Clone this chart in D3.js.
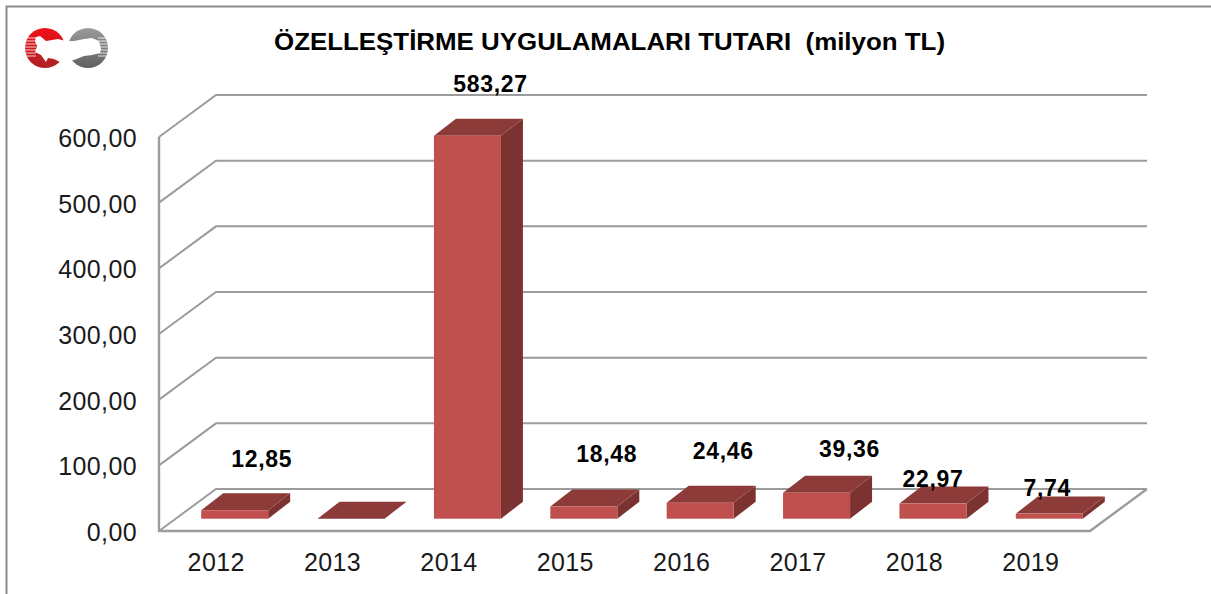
<!doctype html>
<html lang="tr">
<head>
	<meta charset="UTF-8">
	<title>Özelleştirme uygulamaları tutarı</title>
	<script src="https://d3js.org/d3.v7.min.js"></script>
	<style>
		html, body { margin: 0; padding: 0; background: #fff; overflow: hidden; }
		text { font-family: 'Liberation Sans', Arial, sans-serif; white-space: pre; }
	</style>
</head>
<body>
	<div id="chart"></div>
	<script>
		var years = ['2012', '2013', '2014', '2015', '2016', '2017', '2018', '2019']
		var amounts = [12.85, 0, 583.27, 18.48, 24.46, 39.36, 22.97, 7.74]
		var amount_labels = ['12,85', '', '583,27', '18,48', '24,46', '39,36', '22,97', '7,74']
		var y_ticks = [0, 100, 200, 300, 400, 500, 600]
		var chart_title = 'ÖZELLEŞTİRME UYGULAMALARI TUTARI  (milyon TL)'

		var w = 1211
		var h = 594

		var svg = d3.select('#chart')
			.append('svg')
			.attr('width', w)
			.attr('height', h)

		// scales, the front plane of the 3d box
		var x = d3.scaleBand().domain(years).range([159, 1090])
		var y = d3.scaleLinear().domain([0, 600]).range([531, 137])
		var comma = d3.formatLocale({ decimal: ',', thousands: '.', grouping: [3], currency: ['', ''] }).format('.2f')

		// box depth and bar depth
		var depth_x = 57, depth_y = -42
		var bar_x = 22, bar_y = -17
		var bar_w = 67
		var bar_shift_x = 17.5, bar_shift_y = -12.3

		// labels were placed by hand in the original
		var label_nudge = [[27, -26], [0, 0], [23, -27], [23, -28], [23, -27], [33, -19], [0, 0], [-2, -1]]

		var grid = '#9c9c9c'

		/* ---------------------------------- Frame --------------------------------- */
		svg.append('path')
			.attr('d', 'M6.5,594V6.5H1211')
			.attr('fill', 'none')
			.attr('stroke', '#8c8c8c')
			.attr('stroke-width', 2)

		/* ---------------------------------- Logo ---------------------------------- */
		function draw_logo() {
			var defs = svg.append('defs')
			var red = defs.append('linearGradient').attr('id', 'logo_red').attr('x1', 0).attr('y1', 0).attr('x2', 0).attr('y2', 1)
			red.append('stop').attr('offset', 0).attr('stop-color', '#f01018')
			red.append('stop').attr('offset', 1).attr('stop-color', '#b02025')
			var gray = defs.append('linearGradient').attr('id', 'logo_gray').attr('x1', 0).attr('y1', 0).attr('x2', 0).attr('y2', 1)
			gray.append('stop').attr('offset', 0).attr('stop-color', '#9a9a9a')
			gray.append('stop').attr('offset', 1).attr('stop-color', '#606060')

			var logo = svg.append('g')
			logo.append('circle').attr('cx', 45).attr('cy', 48).attr('r', 20).attr('fill', 'url(#logo_red)')
			logo.append('circle').attr('cx', 88).attr('cy', 48).attr('r', 20).attr('fill', 'url(#logo_gray)')

			// stripes on the outer edges
			d3.range(38, 58, 3).forEach(function(sy) {
				logo.append('line').attr('x1', 24).attr('x2', 36).attr('y1', sy).attr('y2', sy)
					.attr('stroke', '#fff').attr('stroke-width', 0.8)
				logo.append('line').attr('x1', 98).attr('x2', 109).attr('y1', sy).attr('y2', sy)
					.attr('stroke', '#fff').attr('stroke-width', 0.8)
			})

			// map outline in white across both circles
			logo.append('path')
				.attr('d', 'M36,37 L40,36 L46,41 L58,39 L66,41 L74,41 L84,39 L92,38 L99,41 L101,49 L100,53 L92,55 L84,56 L74,60 L66,60 L62,63 L54,59 L48,58 L46,62 L41,55 L35,52 L37,46 L35,41 Z')
				.attr('fill', '#fff')
		}
		draw_logo()

		/* ---------------------------------- Title --------------------------------- */
		svg.append('text')
			.attr('x', 274)
			.attr('y', 50)
			.attr('textLength', 671)
			.attr('lengthAdjust', 'spacingAndGlyphs')
			.attr('font-size', 23)
			.attr('font-weight', 'bold')
			.attr('fill', '#000')
			.text(chart_title)

		/* ------------------------------- Walls, floor ------------------------------ */
		var x_left = x.range()[0], x_right = x.range()[1]

		y_ticks.forEach(function(t) {
			svg.append('path')
				.attr('d', d3.line()([
					[x_left, y(t)],
					[x_left + depth_x, y(t) + depth_y],
					[x_right + depth_x, y(t) + depth_y]
				]))
				.attr('fill', 'none')
				.attr('stroke', grid)
				.attr('stroke-width', 2)
		})

		// right edge of the floor, front edge and the side wall edge
		svg.append('path')
			.attr('d', d3.line()([
				[x_right + depth_x, y(0) + depth_y],
				[x_right, y(0)],
				[x_left, y(0)],
				[x_left, y(600)]
			]))
			.attr('fill', 'none')
			.attr('stroke', grid)
			.attr('stroke-width', 2.4)

		/* ---------------------------------- Axes ---------------------------------- */
		var y_axis = d3.axisLeft(y).tickValues(y_ticks).tickFormat(comma).tickSize(0).tickPadding(22)
		var y_g = svg.append('g').attr('transform', 'translate(' + x_left + ',1.5)').call(y_axis)
		y_g.select('.domain').remove()
		y_g.selectAll('text')
			.attr('font-size', 25)
			.attr('letter-spacing', 0.4)
			.attr('fill', '#1a1a1a')
			.style('font-family', "'Liberation Sans', Arial, sans-serif")

		var x_axis = d3.axisBottom(x).tickSize(0).tickPadding(22)
		var x_g = svg.append('g').attr('transform', 'translate(-1,' + y(0) + ')').call(x_axis)
		x_g.select('.domain').remove()
		x_g.selectAll('text')
			.attr('font-size', 25)
			.attr('letter-spacing', 0.4)
			.attr('fill', '#1a1a1a')
			.style('font-family', "'Liberation Sans', Arial, sans-serif")

		/* ---------------------------------- Bars ---------------------------------- */
		years.forEach(function(year, i) {
			var x0 = x(year) + x.bandwidth() / 2 + bar_shift_x - bar_w / 2
			var x1 = x0 + bar_w
			var base = y(0) + bar_shift_y
			var top = y(amounts[i]) + bar_shift_y
			var bar = svg.append('g').attr('class', 'bar')

			// side
			bar.append('polygon')
				.attr('points', [[x1, base], [x1 + bar_x, base + bar_y], [x1 + bar_x, top + bar_y], [x1, top]].join(' '))
				.attr('fill', '#7b3230')
			// top
			bar.append('polygon')
				.attr('points', [[x0, top], [x0 + bar_x, top + bar_y], [x1 + bar_x, top + bar_y], [x1, top]].join(' '))
				.attr('fill', '#8d3b39')
			// front
			bar.append('rect')
				.attr('x', x0)
				.attr('y', top)
				.attr('width', bar_w)
				.attr('height', base - top)
				.attr('fill', '#c0504d')
		})

		/* ---------------------------------- Labels --------------------------------- */
		years.forEach(function(year, i) {
			if (amount_labels[i] == '') return
			svg.append('text')
				.attr('x', x(year) + x.bandwidth() / 2 + bar_shift_x + label_nudge[i][0])
				.attr('y', y(amounts[i]) + bar_shift_y + bar_y + label_nudge[i][1])
				.attr('text-anchor', 'middle')
				.attr('font-size', 23)
				.attr('font-weight', 'bold')
				.attr('letter-spacing', 0.7)
				.attr('fill', '#000')
				.text(amount_labels[i])
		})
	</script>
</body>
</html>
